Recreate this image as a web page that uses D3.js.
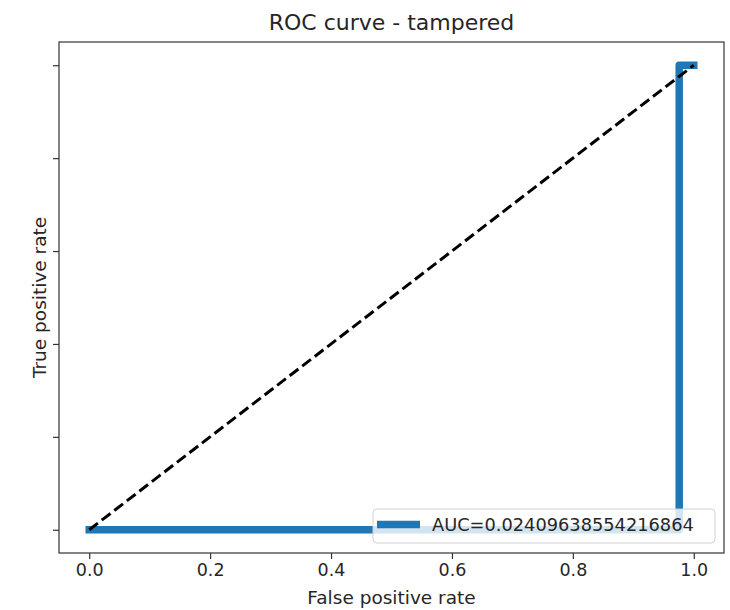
<!DOCTYPE html>
<html>
<head>
<meta charset="utf-8">
<script src="https://cdn.jsdelivr.net/npm/d3@7"></script>
<style>
  body { margin: 0; background: #fff; }
  text { font-family: "DejaVu Sans", sans-serif; fill: #262626; }
</style>
</head>
<body>
<svg id="chart" width="730" height="610"></svg>
<script>
// ROC points
const fpr = [0, 0.9759, 0.9759, 1];
const tpr = [0, 0, 1, 1];
const chanceLine = [0, 1];
const xTicks = [0, 0.2, 0.4, 0.6, 0.8, 1.0];
const yTicks = [0, 0.2, 0.4, 0.6, 0.8, 1.0];
const aucLabel = "AUC=0.02409638554216864";
const title = "ROC curve - tampered";

function drawChart() {
  let svg = d3.select("#chart");
  let left = 59, right = 724, top = 42, bottom = 553;

  let x = d3.scaleLinear().domain([-0.05, 1.05]).range([left, right]);
  let y = d3.scaleLinear().domain([-0.05, 1.05]).range([bottom, top]);

  svg.append("rect")
    .attr("width", 730).attr("height", 610).attr("fill", "#fff");

  let line = d3.line()
    .x(d => x(d[0]))
    .y(d => y(d[1]));

  // roc curve
  svg.append("path")
    .datum(fpr.map((f, i) => [f, tpr[i]]))
    .attr("d", line)
    .attr("fill", "none")
    .attr("stroke", "#1f77b4")
    .attr("stroke-width", 7.5)
    .attr("stroke-linecap", "square")
    .attr("stroke-linejoin", "round");

  // chance diagonal
  svg.append("path")
    .datum(chanceLine.map(v => [v, v]))
    .attr("d", line)
    .attr("fill", "none")
    .attr("stroke", "#000")
    .attr("stroke-width", 3)
    .attr("stroke-dasharray", "11,4.8");

  // axes
  let xAxis = svg.append("g")
    .attr("transform", `translate(0,${bottom})`)
    .call(d3.axisBottom(x).tickValues(xTicks).tickFormat(d3.format(".1f"))
      .tickSize(6).tickPadding(5).tickSizeOuter(0));

  let yAxis = svg.append("g")
    .attr("transform", `translate(${left},0)`)
    .call(d3.axisLeft(y).tickValues(yTicks).tickFormat("")
      .tickSize(6).tickSizeOuter(0));

  [xAxis, yAxis].forEach(g => {
    g.select(".domain").remove();
    g.selectAll(".tick line").attr("stroke", "#333").attr("stroke-width", 1.2);
    g.selectAll(".tick text")
      .attr("font-size", "17.5px")
      .attr("font-family", "DejaVu Sans")
      .attr("fill", "#262626");
  });

  // frame
  svg.append("rect")
    .attr("x", left).attr("y", top)
    .attr("width", right - left).attr("height", bottom - top)
    .attr("fill", "none")
    .attr("stroke", "#333")
    .attr("stroke-width", 1.2);

  // legend
  let legend = svg.append("g").attr("transform", "translate(373,509)");
  legend.append("rect")
    .attr("width", 342).attr("height", 34)
    .attr("rx", 4)
    .attr("fill", "#fff").attr("fill-opacity", 0.8)
    .attr("stroke", "#d0d0d0");
  legend.append("line")
    .attr("x1", 4).attr("x2", 47)
    .attr("y1", 15.5).attr("y2", 15.5)
    .attr("stroke", "#1f77b4")
    .attr("stroke-width", 7.5);
  legend.append("text")
    .attr("x", 59).attr("y", 22)
    .attr("font-size", "17.8px")
    .text(aucLabel);

  // titles
  svg.append("text")
    .attr("x", (left + right) / 2).attr("y", 30)
    .attr("text-anchor", "middle")
    .attr("font-size", "22px")
    .text(title);

  svg.append("text")
    .attr("x", (left + right) / 2).attr("y", 604)
    .attr("text-anchor", "middle")
    .attr("font-size", "18.5px")
    .text("False positive rate");

  svg.append("text")
    .attr("transform", `translate(46,${(top + bottom) / 2}) rotate(-90)`)
    .attr("text-anchor", "middle")
    .attr("font-size", "18.5px")
    .text("True positive rate");
}

drawChart();
</script>
</body>
</html>
